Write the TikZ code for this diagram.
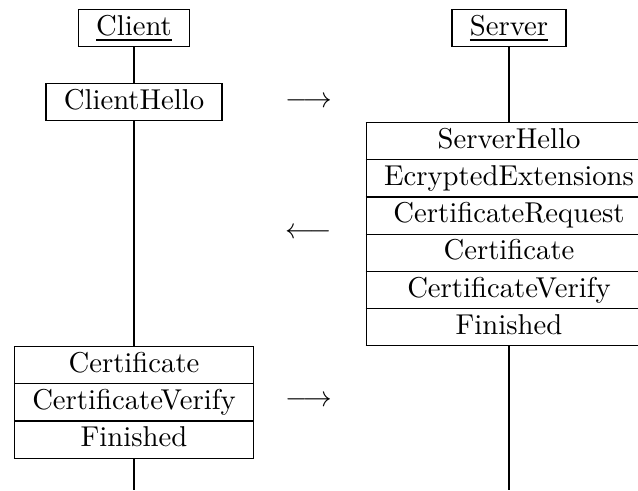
\documentclass[tikz,border=0pt]{standalone}
\usepackage{array}
\renewcommand{\arraystretch}{1.046}
\begin{document}
\begin{tikzpicture}[x=0.3484pt,y=-0.3484pt,
  msgbox/.style={inner sep=0pt,outer sep=0pt,anchor=north},
  arrowsym/.style={inner sep=0pt},
  life/.style={line width=0.4pt}]
\clip (0,0) rectangle (638,490);
\useasboundingbox (0,0) rectangle (638,490);
% client side
\node[msgbox] (client) at (134,9) {\begin{tabular}{|c|}\hline \underline{Client}\\\hline\end{tabular}};
\node[msgbox] (chello) at (134,83) {\begin{tabular}{|c|}\hline ClientHello\\\hline\end{tabular}};
\node[msgbox] (cfin) at (134,346) {\begin{tabular}{|c|}\hline Certificate\\\hline CertificateVerify\\\hline Finished\\\hline\end{tabular}};
\coordinate (cend) at (134,490);
% server side
\node[msgbox] (server) at (509,9) {\begin{tabular}{|c|}\hline \underline{Server}\\\hline\end{tabular}};
\node[msgbox] (shello) at (509,122) {\begin{tabular}{|c|}\hline ServerHello\\\hline EcryptedExtensions\\\hline CertificateRequest\\\hline Certificate\\\hline CertificateVerify\\\hline Finished\\\hline\end{tabular}};
\coordinate (send) at (509,490);
% lifelines
\draw[life] (client.south) -- (chello.north);
\draw[life] (chello.south) -- (cfin.north);
\draw[life] (cfin.south) -- (cend);
\draw[life] (server.south) -- (shello.north);
\draw[life] (shello.south) -- (send);
% arrows
\node[arrowsym] (a1) at (309,102) {$\longrightarrow$};
\node[arrowsym] (a2) at (309,233) {$\longleftarrow$};
\node[arrowsym] (a3) at (309,401) {$\longrightarrow$};
\end{tikzpicture}
\end{document}
